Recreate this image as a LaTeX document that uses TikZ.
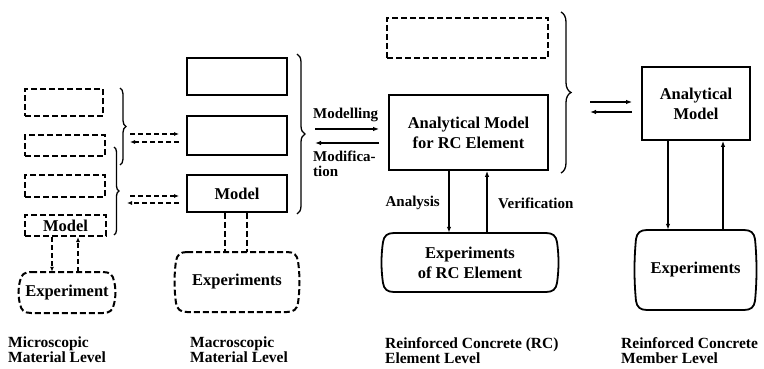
\documentclass[tikz,border=0pt]{standalone}
\usepackage{fontspec}
\setmainfont{Liberation Serif}
\usetikzlibrary{arrows.meta,decorations.pathreplacing,calc}

% barrel-shaped outline: straight top and bottom, gently bulging sides, rounded corners
% #1 style, (#2,#3) top-left, (#4,#5) bottom-right
\newcommand\barrelat[5]{%
  \draw[#1] ({#2+9},#3) -- ({#4-9},#3)
    .. controls ({#4-2},#3) and ({#4+1},{#3+3}) .. ({#4+2},{#3+9})
    .. controls ({#4+4},{#3+9+(#5-#3-18)/3}) and ({#4+4},{#5-9-(#5-#3-18)/3}) .. ({#4+2},{#5-9})
    .. controls ({#4+1},{#5-3}) and ({#4-2},#5) .. ({#4-9},#5)
    -- ({#2+9},#5)
    .. controls ({#2+2},#5) and ({#2-1},{#5-3}) .. ({#2-2},{#5-9})
    .. controls ({#2-4},{#5-9-(#5-#3-18)/3}) and ({#2-4},{#3+9+(#5-#3-18)/3}) .. ({#2-2},{#3+9})
    .. controls ({#2-1},{#3+3}) and ({#2+2},#3) .. ({#2+9},#3) -- cycle;}

\tikzset{
  txt/.style={font=\fontsize{16.5}{20}\selectfont\bfseries, inner sep=0pt, align=center},
  lab/.style={font=\fontsize{15}{15}\selectfont\bfseries, inner sep=0pt, align=left},
  levelcaption/.style={font=\fontsize{15.5}{15}\selectfont\bfseries, inner sep=0pt, align=left, anchor=north west},
  dashline/.style={dash pattern=on 6pt off 3pt, line width=2pt},
  dbox/.style={txt, draw, dashline},
  sbox/.style={txt, draw, line width=1.8pt},
  curly/.style={decorate, decoration={brace, amplitude=#1}, line width=1.3pt},
  sarrow/.style={line width=1.3pt, -{Latex[length=6pt,width=4.5pt]}},
  darrow/.style={dash pattern=on 5pt off 3pt, line width=1.5pt, -{Latex[length=5pt,width=4pt]}},
}

\begin{document}
\begin{tikzpicture}[x=1pt, y=-1pt]
\useasboundingbox[fill=white] (0,0) rectangle (764,369);

% ---------- microscopic material level ----------
\node[dbox, minimum width=78pt, minimum height=27pt] (l1) at (64,103) {};
\node[dbox, minimum width=80pt, minimum height=21pt] (l2) at (65,145.5) {};
\node[dbox, minimum width=80pt, minimum height=22pt] (l3) at (65,186) {};
\node[dbox, minimum width=81pt, minimum height=21pt] (lmodel) at (65.5,225.5) {Model};
\node[txt, minimum width=90pt, minimum height=41pt] (lexp) at (67,292.5) {Experiment};
\barrelat{dashline}{22}{272}{112}{313}
\draw[darrow] ([xshift=-13.5pt]lmodel.south) -- ([xshift=-13.5pt]lmodel.south |- lexp.north);
\draw[darrow] ([xshift=12.5pt]lmodel.south |- lexp.north) -- ([xshift=12.5pt]lmodel.south);

\draw[curly=6pt] (120,88) -- (120,165);
\draw[curly=5pt] (114,147) -- (114,235);

% ---------- macroscopic material level ----------
\node[sbox, minimum width=100pt, minimum height=37pt] (m1) at (237,76.5) {};
\node[sbox, minimum width=100pt, minimum height=39pt] (m2) at (237,135.5) {};
\node[sbox, minimum width=100pt, minimum height=37pt] (m3) at (237,193.5) {Model};
\node[txt, minimum width=118pt, minimum height=60pt] (mexp) at (237,282) {Experiments};
\barrelat{dashline}{178}{252}{296}{312}
\draw[dashline] ([xshift=-12pt]m3.south) -- ([xshift=-12pt]m3.south |- mexp.north);
\draw[dashline] ([xshift=10pt]m3.south) -- ([xshift=10pt]m3.south |- mexp.north);

% links between the two material levels
\coordinate (pa) at (130,134);
\coordinate (pb) at (130,142);
\coordinate (pc) at (130,196);
\coordinate (pd) at (127,203);
\draw[darrow, shorten >=7pt] (pa) -- (pa -| m2.west);
\draw[darrow, shorten <=7pt] (pb -| m2.west) -- (pb);
\draw[darrow, shorten >=7pt] (pc) -- (pc -| m3.west);
\draw[darrow, shorten <=7pt] (pd -| m3.west) -- (pd);

\draw[curly=8pt] (297,54) -- (297,214);

% ---------- RC element level ----------
\node[dbox, minimum width=161pt, minimum height=40pt] (c1) at (467.5,38) {};
\node[sbox, minimum width=159pt, minimum height=75pt] (c2) at (468.5,132.5)
  {Analytical Model\\for RC Element};
\node[txt, minimum width=170pt, minimum height=59pt] (cexp) at (470,262.5)
  {Experiments\\of RC Element};
\barrelat{line width=1.8pt}{385}{233}{555}{292}

\coordinate (mo) at (315,129);
\coordinate (mf) at (315,143);
\draw[sarrow, shorten >=9pt] (mo) -- (mo -| c2.west);
\draw[sarrow, shorten <=9pt] (mf -| c2.west) -- (mf);
\node[lab, anchor=west] (lmod) at (313,115) {Modelling};
\node[lab, anchor=north west] (lmodif) at (313,151) {Modifica-\\tion};

\draw[sarrow] ([xshift=-19.5pt]c2.south) -- ([xshift=-19.5pt]c2.south |- cexp.north);
\draw[sarrow] ([xshift=18.5pt]c2.south |- cexp.north) -- ([xshift=18.5pt]c2.south);
\node[lab, anchor=east] (lana) at (440,203) {Analysis};
\node[lab, anchor=west] (lver) at (498,203) {Verification};

\draw[curly=10pt] (561,12) -- (561,173);

% ---------- RC member level ----------
\node[sbox, minimum width=108pt, minimum height=73pt] (r1) at (696,103.5)
  {Analytical\\Model};
\node[txt, minimum width=115pt, minimum height=80pt] (rexp) at (695.5,270) {Experiments};
\barrelat{line width=1.8pt}{638}{230}{753}{310}

\coordinate (ra) at (590,102);
\coordinate (rb) at (590,112);
\draw[sarrow, shorten >=9pt] (ra) -- (ra -| r1.west);
\draw[sarrow, shorten <=9pt] (rb -| r1.west) -- (rb);

\draw[sarrow] ([xshift=-28pt]r1.south) -- ([xshift=-28pt]r1.south |- rexp.north);
\draw[sarrow] ([xshift=27pt]r1.south |- rexp.north) -- ([xshift=27pt]r1.south);

% ---------- level captions ----------
\node[levelcaption] (k1) at (8,337) {Microscopic\\Material Level};
\node[levelcaption] (k2) at (190,337) {Macroscopic\\Material Level};
\node[levelcaption] (k3) at (385,337) {Reinforced Concrete (RC)\\Element Level};
\node[levelcaption] (k4) at (621,337) {Reinforced Concrete\\Member Level};
\end{tikzpicture}
\end{document}
